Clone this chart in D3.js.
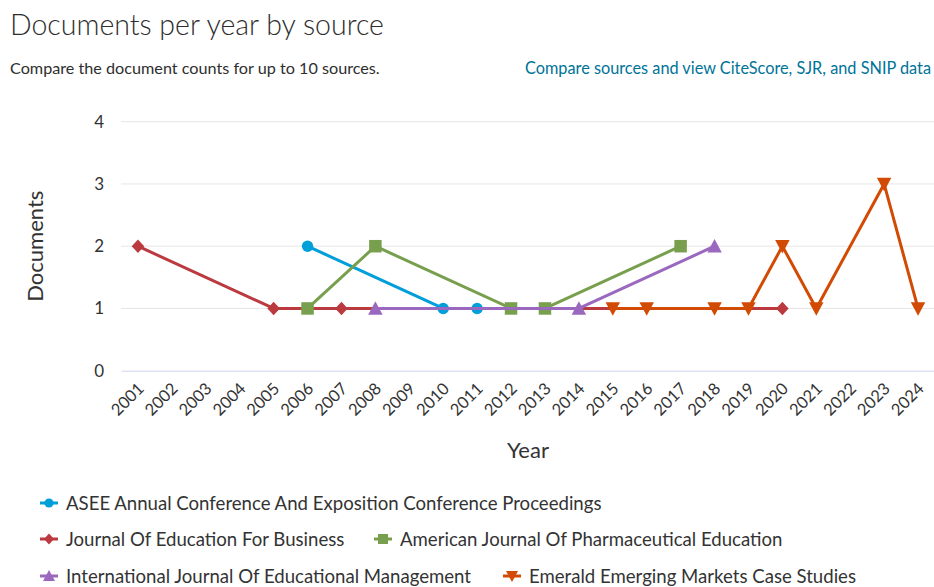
<!DOCTYPE html>
<html>
<head>
<meta charset="utf-8">
<script src="https://cdn.jsdelivr.net/npm/d3@7"></script>
<style>
  html, body { margin: 0; padding: 0; background: #fff; }
  svg { display: block; font-family: Lato, "Open Sans", sans-serif; }
</style>
</head>
<body>
<svg id="chart" width="934" height="587"></svg>
<script>
const years = ["2001","2002","2003","2004","2005","2006","2007","2008","2009","2010","2011","2012","2013","2014","2015","2016","2017","2018","2019","2020","2021","2022","2023","2024"];
const yTicks = [0, 1, 2, 3, 4];

const seriesNames = [
  "ASEE Annual Conference And Exposition Conference Proceedings",
  "Journal Of Education For Business",
  "American Journal Of Pharmaceutical Education",
  "International Journal Of Educational Management",
  "Emerald Emerging Markets Case Studies"
];
const seriesColors = ["#009fda", "#bb3a40", "#789f4d", "#9a68be", "#d24b04"];
const seriesSymbols = ["circle", "diamond", "square", "triangle", "triangleDown"];

const aseeYears = ["2006", "2010", "2011"];
const aseeValues = [2, 1, 1];
const jebYears = ["2001", "2005", "2007", "2020"];
const jebValues = [2, 1, 1, 1];
const ajpeYears = ["2006", "2008", "2012", "2013", "2017"];
const ajpeValues = [1, 2, 1, 1, 2];
const ijemYears = ["2008", "2014", "2018"];
const ijemValues = [1, 1, 2];
const emeraldYears = ["2015", "2016", "2018", "2019", "2020", "2021", "2023", "2024"];
const emeraldValues = [1, 1, 1, 1, 2, 1, 3, 1];

const seriesData = [
  aseeYears.map((y, i) => ({ year: y, value: aseeValues[i] })),
  jebYears.map((y, i) => ({ year: y, value: jebValues[i] })),
  ajpeYears.map((y, i) => ({ year: y, value: ajpeValues[i] })),
  ijemYears.map((y, i) => ({ year: y, value: ijemValues[i] })),
  emeraldYears.map((y, i) => ({ year: y, value: emeraldValues[i] }))
];

const svg = d3.select("#chart");
const plot = { left: 121, right: 935, top: 121.7, bottom: 370.7 };

const x = d3.scaleBand().domain(years).range([plot.left, plot.right]).padding(0);
const xc = d => x(d) + x.bandwidth() / 2;
const y = d3.scaleLinear().domain([0, 4]).range([plot.bottom, plot.top]);

// Title
svg.append("text").attr("x", 10).attr("y", 35)
  .attr("font-size", 28.5).attr("font-weight", 300).attr("fill", "#2e2e2e")
  .text("Documents per year by source");
svg.append("text").attr("x", 10).attr("y", 74)
  .attr("font-size", 16.2).attr("fill", "#2e2e2e")
  .text("Compare the document counts for up to 10 sources.");
svg.append("text").attr("x", 931).attr("y", 74).attr("text-anchor", "end")
  .attr("font-size", 16.3).attr("fill", "#007398")
  .text("Compare sources and view CiteScore, SJR, and SNIP data");

// Gridlines
const grid = svg.append("g");
grid.selectAll("line").data(yTicks.filter(t => t > 0)).join("line")
  .attr("x1", plot.left).attr("x2", plot.right)
  .attr("y1", d => y(d)).attr("y2", d => y(d))
  .attr("stroke", "#e6e6e6").attr("stroke-width", 1);

// Y axis
const yAxis = svg.append("g").attr("transform", `translate(${plot.left},0)`)
  .call(d3.axisLeft(y).tickValues(yTicks).tickSize(0).tickPadding(17).tickFormat(d3.format("d")));
yAxis.select(".domain").remove();
yAxis.selectAll("text").attr("font-size", 17).attr("fill", "#333").attr("font-family", "Lato, sans-serif");

// X axis
const xAxis = svg.append("g").attr("transform", `translate(0,${plot.bottom})`)
  .call(d3.axisBottom(x).tickSize(0).tickPadding(0));
xAxis.select(".domain").attr("stroke", "#ccd6eb").attr("stroke-width", 1);
xAxis.selectAll("text")
  .attr("font-size", 16.5).attr("fill", "#333").attr("font-family", "Lato, sans-serif")
  .attr("text-anchor", "end")
  .attr("dy", null).attr("y", 0)
  .attr("transform", "translate(7,19) rotate(-45)");

// Axis titles
svg.append("text").attr("transform", `translate(43,${(plot.top + plot.bottom) / 2}) rotate(-90)`)
  .attr("text-anchor", "middle").attr("font-size", 22).attr("fill", "#333")
  .text("Documents");
svg.append("text").attr("x", 528).attr("y", 458).attr("text-anchor", "middle")
  .attr("font-size", 22).attr("fill", "#333")
  .text("Year");

// Symbol paths
function symbolPath(type, s) {
  switch (type) {
    case "circle": return d3.symbol(d3.symbolCircle, Math.PI * (s / 2.2) * (s / 2.2))();
    case "square": return `M${-s / 2},${-s / 2}h${s}v${s}h${-s}Z`;
    case "diamond": return `M0,${-s / 2 - 0.5}L${s / 2},0L0,${s / 2 + 0.5}L${-s / 2},0Z`;
    case "triangle": return `M0,${-s / 2 - 1}L${s / 2 + 1},${s / 2}L${-s / 2 - 1},${s / 2}Z`;
    case "triangleDown": return `M${-s / 2 - 1},${-s / 2}L${s / 2 + 1},${-s / 2}L0,${s / 2 + 1}Z`;
  }
}

const line = d3.line().x(d => xc(d.year)).y(d => y(d.value));

const seriesG = svg.append("g");
seriesData.forEach((data, i) => {
  const g = seriesG.append("g");
  g.append("path").datum(data).attr("d", line)
    .attr("fill", "none").attr("stroke", seriesColors[i]).attr("stroke-width", 3)
    .attr("stroke-linejoin", "round").attr("stroke-linecap", "round");
  g.selectAll("path.marker").data(data).join("path").attr("class", "marker")
    .attr("transform", d => `translate(${xc(d.year)},${y(d.value)})`)
    .attr("d", symbolPath(seriesSymbols[i], 12.5))
    .attr("fill", seriesColors[i]);
});

// Legend
const legendPos = [
  { x: 40, y: 503 },
  { x: 40, y: 539 },
  { x: 374, y: 539 },
  { x: 40, y: 576 },
  { x: 503, y: 576 }
];
const legend = svg.append("g");
seriesNames.forEach((name, i) => {
  const p = legendPos[i];
  const g = legend.append("g").attr("transform", `translate(${p.x},${p.y})`);
  g.append("line").attr("x1", 0).attr("x2", 18).attr("y1", 0).attr("y2", 0)
    .attr("stroke", seriesColors[i]).attr("stroke-width", 3);
  g.append("path").attr("transform", "translate(9,0)")
    .attr("d", symbolPath(seriesSymbols[i], 10)).attr("fill", seriesColors[i]);
  g.append("text").attr("x", 26).attr("y", 6.5)
    .attr("font-size", 18.6).attr("fill", "#333").text(name);
});
</script>
</body>
</html>
